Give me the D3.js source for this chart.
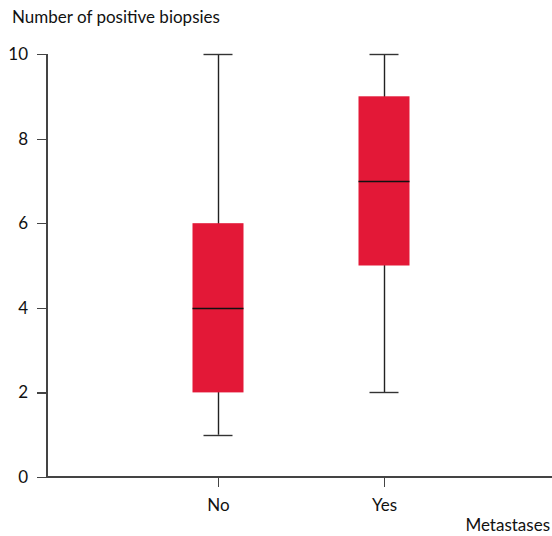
<!DOCTYPE html>
<meta charset="utf-8">
<head>
<style>
body { margin: 0; background: #fff; }
svg text { font-family: Lato, "Open Sans", sans-serif; font-size: 17px; fill: #111; }
.axis path, .axis line { stroke: #444; stroke-width: 1.2; shape-rendering: crispEdges; }
</style>
</head>
<body>
<script src="https://cdnjs.cloudflare.com/ajax/libs/d3/7.8.5/d3.min.js"></script>
<script>
// data per group: min, q1, median, q3, max
var groups = ["No", "Yes"];
var mins = [1, 2];
var q1s = [2, 5];
var medians = [4, 7];
var q3s = [6, 9];
var maxs = [10, 10];
var yTicks = [0, 2, 4, 6, 8, 10];

var width = 552, height = 536;
var plotLeft = 47, plotRight = 552, plotTop = 54, plotBottom = 477;

var svg = d3.select("body").append("svg")
    .attr("width", width)
    .attr("height", height);

// category positions sit a little right of the symmetric layout
var x = d3.scalePoint().domain(groups).range([plotLeft + 5, plotRight - 2]).padding(1);
var y = d3.scaleLinear().domain([0, 10]).range([plotBottom, plotTop]);

var boxW = 51, capW = 29;

var data = groups.map(function (g, i) {
  return { g: g, min: mins[i], q1: q1s[i], med: medians[i], q3: q3s[i], max: maxs[i] };
});

var box = svg.selectAll(".box").data(data).enter().append("g").attr("class", "box");

// whiskers
box.append("line")
    .attr("x1", function (d) { return Math.round(x(d.g)) + 0.5; })
    .attr("x2", function (d) { return Math.round(x(d.g)) + 0.5; })
    .attr("y1", function (d) { return y(d.max); })
    .attr("y2", function (d) { return y(d.min); })
    .attr("stroke", "#222").attr("stroke-width", 1.4);

["max", "min"].forEach(function (k) {
  box.append("line")
      .attr("x1", function (d) { return x(d.g) - capW / 2; })
      .attr("x2", function (d) { return x(d.g) + capW / 2; })
      .attr("y1", function (d) { return Math.round(y(d[k])) + 0.5; })
      .attr("y2", function (d) { return Math.round(y(d[k])) + 0.5; })
      .attr("stroke", "#333").attr("stroke-width", 1.4);
});

box.append("rect")
    .attr("x", function (d) { return x(d.g) - boxW / 2; })
    .attr("width", boxW)
    .attr("y", function (d) { return y(d.q3); })
    .attr("height", function (d) { return y(d.q1) - y(d.q3); })
    .attr("fill", "#e31837");

box.append("line")
    .attr("x1", function (d) { return x(d.g) - boxW / 2; })
    .attr("x2", function (d) { return x(d.g) + boxW / 2; })
    .attr("y1", function (d) { return Math.round(y(d.med)) + 0.5; })
    .attr("y2", function (d) { return Math.round(y(d.med)) + 0.5; })
    .attr("stroke", "#111").attr("stroke-width", 1.3);

// y axis
var yAxis = svg.append("g").attr("class", "axis")
    .attr("transform", "translate(" + plotLeft + ",0)")
    .call(d3.axisLeft(y).tickValues(yTicks).tickSize(10).tickSizeOuter(0).tickPadding(9));
yAxis.select(".domain").remove();
yAxis.append("line").attr("x1", 0).attr("x2", 0).attr("y1", plotTop).attr("y2", plotBottom);

// x axis
var xAxis = svg.append("g").attr("class", "axis")
    .attr("transform", "translate(0," + plotBottom + ")")
    .call(d3.axisBottom(x).tickSize(10).tickSizeOuter(0).tickPadding(12));
xAxis.select(".domain").remove();
xAxis.append("line").attr("x1", plotLeft).attr("x2", plotRight).attr("y1", 0).attr("y2", 0);

svg.selectAll(".axis text").style("font-family", "Lato, 'Open Sans', sans-serif").style("font-size", "17px").attr("fill", "#111");

svg.append("text").attr("x", 12).attr("y", 23).text("Number of positive biopsies");
svg.append("text").attr("x", 550).attr("y", 531).attr("text-anchor", "end").text("Metastases");
</script>
</body>
